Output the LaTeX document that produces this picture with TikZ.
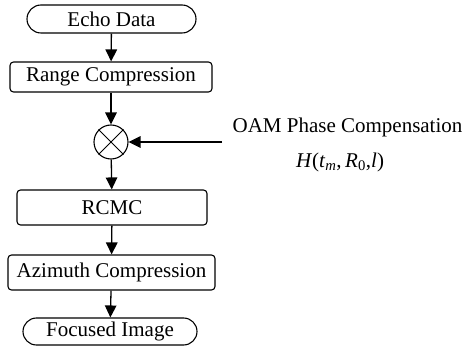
\documentclass[tikz,border=0pt]{standalone}
\usepackage{fontspec}
\setmainfont{Liberation Serif}
\usetikzlibrary{shapes.misc,arrows.meta}
\begin{document}
\begin{tikzpicture}[x=1pt,y=1pt,
  every node/.style={font=\fontsize{21}{24}\selectfont},
  term/.style={draw,line width=1.1pt,rounded rectangle,inner sep=0pt},
  proc/.style={draw,line width=1.1pt,rounded corners=3.5pt,inner sep=0pt},
  flow/.style={line width=1.3pt,-{Triangle[length=12pt,width=11.5pt]}}]
\useasboundingbox (0,0) rectangle (465,-355);
\node[term,minimum width=169pt,minimum height=28pt] (echo) at (111.5,-19) {Echo Data};
\node[proc,minimum width=202pt,minimum height=30pt] (range) at (111,-77) {Range Compression};
\node[draw,circle,line width=1.1pt,minimum size=34pt,inner sep=0pt] (mult) at (111,-142) {};
\draw[line width=1pt] (mult.45) -- (mult.225) (mult.135) -- (mult.315);
\node[proc,minimum width=190pt,minimum height=35pt] (rcmc) at (112,-207.5) {RCMC};
\node[proc,minimum width=207pt,minimum height=35pt] (azi) at (111.5,-272.5) {Azimuth Compression};
\node[term,minimum width=174pt,minimum height=27pt] (foc) at (110,-331.5) {Focused Image};
\node (oam) at (347.5,-127) {OAM Phase Compensation};
\node (h) at (340,-162) {\textit{H}(\textit{t}\textsubscript{\textit{m}},\,\textit{R}\textsubscript{0},\textit{l})};
\coordinate (src) at (222,-142);
\draw[flow] (echo) -- (range);
\draw[flow] (range) -- (mult);
\draw[flow] (mult) -- (rcmc);
\draw[flow] (rcmc) -- (azi);
\draw[flow] (azi) -- (foc);
\draw[flow] (src) -- (mult);
\end{tikzpicture}
\end{document}
